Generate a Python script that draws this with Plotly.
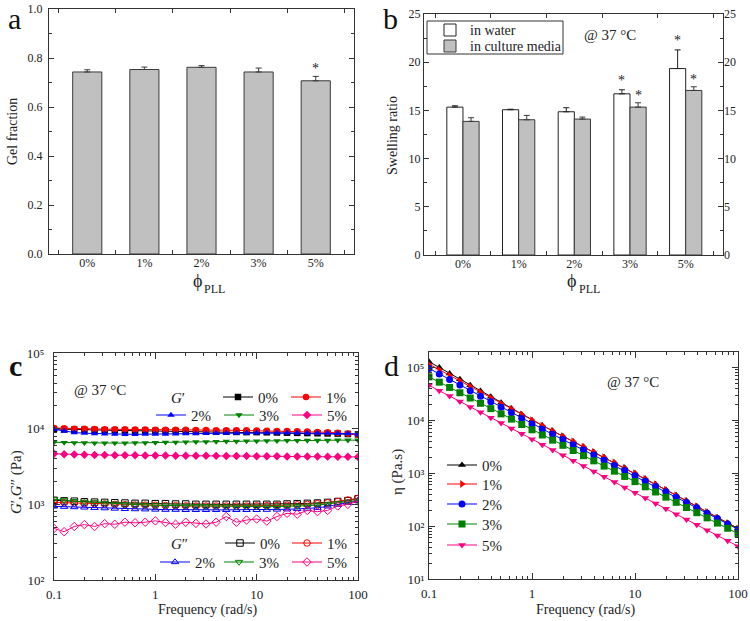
import plotly.graph_objects as go

FONT = "Liberation Serif"
TXT = "#222222"
AX = "#333333"

# ---------------- data ----------------
categories = ["0%", "1%", "2%", "3%", "5%"]

gel_fraction = [0.743, 0.753, 0.762, 0.743, 0.707]
gel_fraction_err = [0.009, 0.010, 0.007, 0.016, 0.018]
gel_sig = [False, False, False, False, True]

swell_water = [15.34, 15.07, 14.86, 16.72, 19.34]
swell_water_err = [0.14, 0.05, 0.42, 0.42, 1.94]
swell_media = [13.86, 14.03, 14.10, 15.34, 17.07]
swell_media_err = [0.38, 0.45, 0.21, 0.45, 0.38]
sig_water = [False, False, False, True, True]
sig_media = [False, False, False, True, True]

freq = [0.1, 0.1259, 0.1585, 0.1995, 0.2512, 0.3162, 0.3981, 0.5012, 0.631, 0.7943,
        1, 1.259, 1.585, 1.995, 2.512, 3.162, 3.981, 5.012, 6.31, 7.943,
        10, 12.59, 15.85, 19.95, 25.12, 31.62, 39.81, 50.12, 63.1, 79.43, 100]

# storage modulus G' (Pa)
gp_0 = [9900, 9800, 9700, 9650, 9600, 9550, 9500, 9450, 9400, 9400, 9350, 9300, 9300, 9250, 9200, 9150,
        9100, 9100, 9050, 9000, 9000, 8950, 8900, 8850, 8800, 8750, 8700, 8650, 8600, 8500, 8400]
gp_1 = [10200, 10100, 10000, 10000, 9900, 9850, 9800, 9800, 9750, 9750, 9700, 9700, 9650, 9650, 9600, 9600,
        9550, 9550, 9500, 9500, 9450, 9400, 9350, 9300, 9250, 9150, 9050, 8950, 8800, 8600, 8300]
gp_2 = [9800, 9300, 8900, 8700, 8600, 8550, 8500, 8400, 8400, 8450, 8500, 8500, 8550, 8600, 8600, 8650,
        8700, 8700, 8700, 8750, 8800, 8800, 8800, 8800, 8750, 8750, 8700, 8700, 8650, 8600, 8500]
gp_3 = [6600, 6550, 6500, 6500, 6450, 6450, 6450, 6450, 6500, 6500, 6550, 6600, 6600, 6650, 6700, 6700,
        6750, 6800, 6800, 6850, 6850, 6900, 6900, 6950, 6950, 7000, 7000, 7000, 7050, 7050, 7050]
gp_5 = [4650, 4600, 4550, 4520, 4500, 4480, 4460, 4450, 4440, 4430, 4420, 4410, 4400, 4400, 4390, 4380,
        4370, 4360, 4350, 4340, 4330, 4320, 4310, 4300, 4300, 4290, 4280, 4270, 4260, 4250, 4230]

# loss modulus G'' (Pa)
gpp_0 = [1130, 1110, 1100, 1080, 1070, 1060, 1050, 1040, 1030, 1030, 1020, 1020, 1010, 1010, 1000, 1000,
         1000, 1000, 1000, 1000, 1000, 1000, 1000, 1010, 1020, 1030, 1040, 1060, 1090, 1120, 1180]
gpp_1 = [1060, 1050, 1040, 1030, 1020, 1010, 1000, 990, 980, 975, 970, 965, 960, 955, 950, 950,
         950, 950, 950, 950, 955, 960, 965, 975, 985, 1000, 1020, 1050, 1090, 1140, 1200]
gpp_2 = [940, 930, 920, 910, 900, 890, 880, 870, 865, 860, 855, 850, 850, 845, 845, 845,
         845, 845, 845, 845, 845, 850, 855, 860, 870, 880, 900, 940, 990, 1050, 1110]
gpp_3 = [1170, 1130, 1100, 1080, 1060, 1040, 1020, 1000, 990, 980, 970, 965, 960, 955, 950, 945,
         940, 935, 930, 930, 930, 930, 935, 940, 950, 960, 980, 1010, 1040, 1080, 1120]
gpp_5 = [480, 435, 510, 540, 510, 555, 545, 580, 570, 580, 605, 575, 545, 580, 560, 550,
         580, 690, 580, 620, 640, 600, 690, 760, 740, 830, 800, 830, 950, 1000, 1100]

# complex viscosity (Pa.s)
eta_0 = [128000, 99100, 76900, 59600, 46100, 35800, 27700, 21500, 16600, 12900, 10000,
         7940, 6310, 5010, 3980, 3160, 2510, 2000, 1580, 1260, 1000,
         785, 618, 485, 382, 300, 236, 185, 146, 114.5, 90]
eta_1 = [114800, 89900, 70500, 55200, 43300, 33900, 26500, 20800, 16300, 12800, 10000,
         7900, 6280, 4990, 3960, 3150, 2500, 1990, 1580, 1255, 998,
         784, 616, 483, 380, 298, 234, 184, 144, 113, 89]
eta_2 = [95500, 75000, 58900, 46200, 36300, 28500, 22400, 17600, 13800, 10800, 8510,
         6790, 5420, 4330, 3450, 2750, 2200, 1750, 1400, 1120, 891,
         706, 560, 444, 352, 279, 221, 175, 139, 110, 87]
eta_3 = [66100, 52500, 41700, 33100, 26300, 20900, 16600, 13200, 10500, 8320, 6610,
         5270, 4210, 3360, 2680, 2140, 1710, 1360, 1090, 867, 692,
         552, 441, 352, 281, 224, 179, 143, 114, 91, 72]
eta_5 = [45700, 36100, 28600, 22600, 17900, 14100, 11200, 8850, 7000, 5540, 4370,
         3460, 2740, 2170, 1720, 1360, 1080, 857, 679, 538, 427,
         338, 268, 212, 168, 133, 106, 83.8, 66.4, 52.6, 41.7]

freq_ticks = [0.1, 1, 10, 100]
freq_ticktext = ["0.1", "1", "10", "100"]
mod_ticks = [100, 1000, 10000, 100000]
mod_ticktext = ["10²", "10³", "10⁴", "10⁵"]
eta_ticks = [10, 100, 1000, 10000, 100000]
eta_ticktext = ["10¹", "10²", "10³", "10⁴", "10⁵"]

W, H = 750, 621


def px(x):
    return x / W


def py(y):
    return 1 - y / H


fig = go.Figure()

# ---------------- panel a ----------------
fig.add_trace(go.Bar(
    x=categories, y=gel_fraction, width=0.51,
    marker=dict(color="#c0c0c0", line=dict(color="#3a3a3a", width=1)),
    error_y=dict(type="data", array=gel_fraction_err, arrayminus=[0] * len(gel_fraction),
                 symmetric=False, color="#3a3a3a", thickness=1, width=3),
    xaxis="x", yaxis="y", showlegend=False, hoverinfo="x+y"))

# ---------------- panel b ----------------
fig.add_trace(go.Bar(
    name="in water", x=categories, y=swell_water, width=0.29, offset=-0.29,
    marker=dict(color="white", line=dict(color="#222222", width=1)),
    error_y=dict(type="data", array=swell_water_err, arrayminus=[0] * len(swell_water),
                 symmetric=False, color="#222222", thickness=1, width=3),
    xaxis="x2", yaxis="y2", legend="legend"))
fig.add_trace(go.Bar(
    name="in culture media", x=categories, y=swell_media, width=0.29, offset=0.0,
    marker=dict(color="#c0c0c0", line=dict(color="#3a3a3a", width=1)),
    error_y=dict(type="data", array=swell_media_err, arrayminus=[0] * len(swell_media),
                 symmetric=False, color="#3a3a3a", thickness=1, width=3),
    xaxis="x2", yaxis="y2", legend="legend2"))
# invisible trace carrying the mirrored right-hand axis of panel b
fig.add_trace(go.Scatter(x=categories, y=swell_water, mode="markers", marker=dict(opacity=0),
                         xaxis="x2", yaxis="y5", showlegend=False, hoverinfo="skip"))

# ---------------- panel c ----------------
colors = {"0%": "#000000", "1%": "#ff0000", "2%": "#0000ff", "3%": "#008000", "5%": "#ff0080"}
gp_series = [("0%", gp_0, "square", "legend3"), ("1%", gp_1, "circle", "legend4"),
             ("2%", gp_2, "triangle-up", "legend5"), ("3%", gp_3, "triangle-down", "legend6"),
             ("5%", gp_5, "diamond", "legend7")]
gpp_series = [("0%", gpp_0, "square-open", "legend8"), ("1%", gpp_1, "circle-open", "legend9"),
              ("2%", gpp_2, "triangle-up-open", "legend10"), ("3%", gpp_3, "triangle-down-open", "legend11"),
              ("5%", gpp_5, "diamond-open", "legend12")]
for name, vals, sym, leg in gp_series:
    fig.add_trace(go.Scatter(
        x=freq, y=vals, name=name, mode="lines+markers",
        line=dict(color=colors[name], width=1),
        marker=dict(symbol=sym, size=6.5, color=colors[name]),
        xaxis="x3", yaxis="y3", legend=leg))
for name, vals, sym, leg in gpp_series:
    fig.add_trace(go.Scatter(
        x=freq, y=vals, name=name, mode="lines+markers",
        line=dict(color=colors[name], width=1),
        marker=dict(symbol=sym, size=6.5, color=colors[name], line=dict(width=1)),
        xaxis="x3", yaxis="y3", legend=leg))

# ---------------- panel d ----------------
eta_series = [("0%", eta_0, "triangle-up", "legend13"), ("1%", eta_1, "triangle-right", "legend14"),
              ("2%", eta_2, "circle", "legend15"), ("3%", eta_3, "square", "legend16"),
              ("5%", eta_5, "triangle-down", "legend17")]
for name, vals, sym, leg in eta_series:
    fig.add_trace(go.Scatter(
        x=freq, y=vals, name=name, mode="lines+markers",
        line=dict(color=colors[name], width=1),
        marker=dict(symbol=sym, size=7, color=colors[name]),
        xaxis="x4", yaxis="y4", legend=leg))

# ---------------- axes ----------------
tickfont_small = dict(family=FONT, size=12, color=TXT)
tickfont_big = dict(family=FONT, size=13, color=TXT)

common = dict(showline=True, linecolor=AX, linewidth=1, mirror="ticks", ticks="inside",
              tickcolor=AX, showgrid=False, zeroline=False, automargin=False)

minor_freq = [m * 10 ** e for e in range(-1, 2) for m in range(2, 10)]
minor_mod = [m * 10 ** e for e in range(2, 5) for m in range(2, 10)]
minor_eta = [m * 10 ** e for e in range(1, 6) for m in range(2, 10)]

fig.update_layout(
    xaxis=dict(domain=[px(49), px(354)], anchor="y", type="category", range=[-0.67, 4.67],
               tickson="boundaries", ticklen=4, tickfont=tickfont_small, ticklabelstandoff=-2,
               **common),
    yaxis=dict(domain=[py(254), py(9)], anchor="x", range=[0, 1.0], dtick=0.2, tickformat=".1f",
               ticklen=5, minor=dict(dtick=0.1, ticks="inside", ticklen=3, tickcolor=AX),
               tickfont=tickfont_small, ticklabelstandoff=3, **common),
    xaxis2=dict(domain=[px(424), px(723)], anchor="y2", type="category", range=[-0.7, 4.67],
                tickson="boundaries", ticklen=4, tickfont=tickfont_small, ticklabelstandoff=-2,
                **common),
    yaxis2=dict(domain=[py(255), py(14)], anchor="x2", range=[0, 25], dtick=5,
                ticklen=5, minor=dict(dtick=2.5, ticks="inside", ticklen=3, tickcolor=AX),
                tickfont=tickfont_small, ticklabelstandoff=0, **common),
    yaxis5=dict(domain=[py(255), py(14)], anchor="x2", overlaying="y2", side="right", range=[0, 25],
                dtick=5, ticks="", showline=False, showgrid=False, zeroline=False, automargin=False,
                tickfont=tickfont_small, ticklabelstandoff=0),
    xaxis3=dict(domain=[px(54), px(358)], anchor="y3", type="log", range=[-1, 2],
                tickmode="array", tickvals=freq_ticks, ticktext=freq_ticktext, ticklen=6,
                minor=dict(tickmode="array", tickvals=minor_freq, ticks="inside", ticklen=3, tickcolor=AX),
                tickfont=tickfont_big, ticklabelstandoff=2, **common),
    yaxis3=dict(domain=[py(580), py(353)], anchor="x3", type="log", range=[2, 5],
                tickmode="array", tickvals=mod_ticks, ticktext=mod_ticktext, ticklen=6,
                minor=dict(tickmode="array", tickvals=minor_mod, ticks="inside", ticklen=3, tickcolor=AX),
                tickfont=tickfont_big, ticklabelstandoff=6, **common),
    xaxis4=dict(domain=[px(429), px(738)], anchor="y4", type="log", range=[-1, 2],
                tickmode="array", tickvals=freq_ticks, ticktext=freq_ticktext, ticklen=6,
                minor=dict(tickmode="array", tickvals=minor_freq, ticks="inside", ticklen=3, tickcolor=AX),
                tickfont=tickfont_big, ticklabelstandoff=2, **common),
    yaxis4=dict(domain=[py(579), py(352)], anchor="x4", type="log", range=[1, 5.29],
                tickmode="array", tickvals=eta_ticks, ticktext=eta_ticktext, ticklen=6,
                minor=dict(tickmode="array", tickvals=minor_eta, ticks="inside", ticklen=3, tickcolor=AX),
                tickfont=tickfont_big, ticklabelstandoff=1, **common),
)

# ---------------- legends (one per entry, placed like the original grid) ----------------
legfont = dict(family=FONT, size=15, color=TXT)
leg_common = dict(xanchor="left", yanchor="top", bgcolor="rgba(0,0,0,0)", borderwidth=0,
                  font=legfont, tracegroupgap=0, itemclick=False, itemdoubleclick=False)
# (legend name, x where the legend line starts, y of the row centre) in pixels
legend_slots = [
    ("legend3", 223, 397), ("legend4", 291, 397),
    ("legend5", 156, 415), ("legend6", 224, 415), ("legend7", 292, 415),
    ("legend8", 225, 543), ("legend9", 292, 543),
    ("legend10", 160, 562), ("legend11", 224, 562), ("legend12", 292, 562),
    ("legend13", 447, 465), ("legend14", 447, 484), ("legend15", 447, 504),
    ("legend16", 447, 524), ("legend17", 447, 545),
]
legends = {name: dict(x=px(x - 5), y=py(y - 16.25), **leg_common) for name, x, y in legend_slots}
b_leg = dict(xanchor="left", yanchor="top", bgcolor="rgba(0,0,0,0)", borderwidth=0,
             font=dict(family=FONT, size=14, color=TXT), itemclick=False, itemdoubleclick=False)
legends["legend"] = dict(x=px(430), y=py(30 - 15.6), **b_leg)
legends["legend2"] = dict(x=px(430), y=py(46 - 15.6), **b_leg)

fig.update_layout(
    barmode="overlay",
    width=W, height=H, margin=dict(l=0, r=0, t=0, b=0, pad=0, autoexpand=False),
    paper_bgcolor="white", plot_bgcolor="white",
    font=dict(family=FONT, color=TXT),
    **legends,
)

# frame around the panel-b legend
fig.add_shape(type="rect", xref="paper", yref="paper", x0=px(427), x1=px(563), y0=py(54), y1=py(21),
              line=dict(color="#333333", width=1), fillcolor="rgba(0,0,0,0)", layer="above")

# ---------------- annotations ----------------
ann = []


def label(text, x, y, size, angle=0, color=TXT, xanchor="center"):
    ann.append(dict(text=text, x=px(x), y=py(y), xref="paper", yref="paper", showarrow=False,
                    xanchor=xanchor, yanchor="middle", textangle=angle,
                    font=dict(family=FONT, size=size, color=color)))


# panel letters
label("a", 14, 18, 30, color="#111111")
label("b", 390, 18, 30, color="#111111")
label("<b>c</b>", 15, 366, 30, color="#111111")
label("d", 391, 366, 30, color="#111111")
# axis titles
label("Gel fraction", 12, 132, 14, angle=-90)
label("Swelling ratio", 393, 136, 14, angle=-90)
label("ϕ", 197, 281, 18)
label("PLL", 202, 289, 12, xanchor="left")
label("ϕ", 571, 281, 18)
label("PLL", 577, 289, 12, xanchor="left")
label("<i>G</i>′,<i>G</i>″ (Pa)", 16, 482, 15, angle=-90)
label("η (Pa.s)", 397, 472, 15, angle=-90)
label("Frequency (rad/s)", 207, 610, 14)
label("Frequency (rad/s)", 585, 610, 14)
# temperature labels
for x, y in [(610, 35), (100, 390), (633, 382)]:
    label("@ 37 °C", x, y, 15)
# G' / G'' legend headers
label("<i>G</i>′", 178, 398, 15)
label("<i>G</i>″", 179, 544, 15)

# significance asterisks
for cat, v, e, s in zip(categories, gel_fraction, gel_fraction_err, gel_sig):
    if s:
        ann.append(dict(text="*", x=cat, y=v + e, xref="x", yref="y", showarrow=False,
                        yanchor="bottom", yshift=-2, font=dict(family=FONT, size=14, color=TXT)))
for i, (v, e, s) in enumerate(zip(swell_water, swell_water_err, sig_water)):
    if s:
        ann.append(dict(text="*", x=i - 0.145, y=v + e, xref="x2", yref="y2", showarrow=False,
                        yanchor="bottom", yshift=0, font=dict(family=FONT, size=14, color=TXT)))
for i, (v, e, s) in enumerate(zip(swell_media, swell_media_err, sig_media)):
    if s:
        ann.append(dict(text="*", x=i + 0.145, y=v + e, xref="x2", yref="y2", showarrow=False,
                        yanchor="bottom", yshift=-2, font=dict(family=FONT, size=14, color=TXT)))

fig.update_layout(annotations=ann)

fig.write_html("out.html", config={"displayModeBar": False},
               post_script="document.body.style.margin='0';document.body.style.overflow='hidden';")
